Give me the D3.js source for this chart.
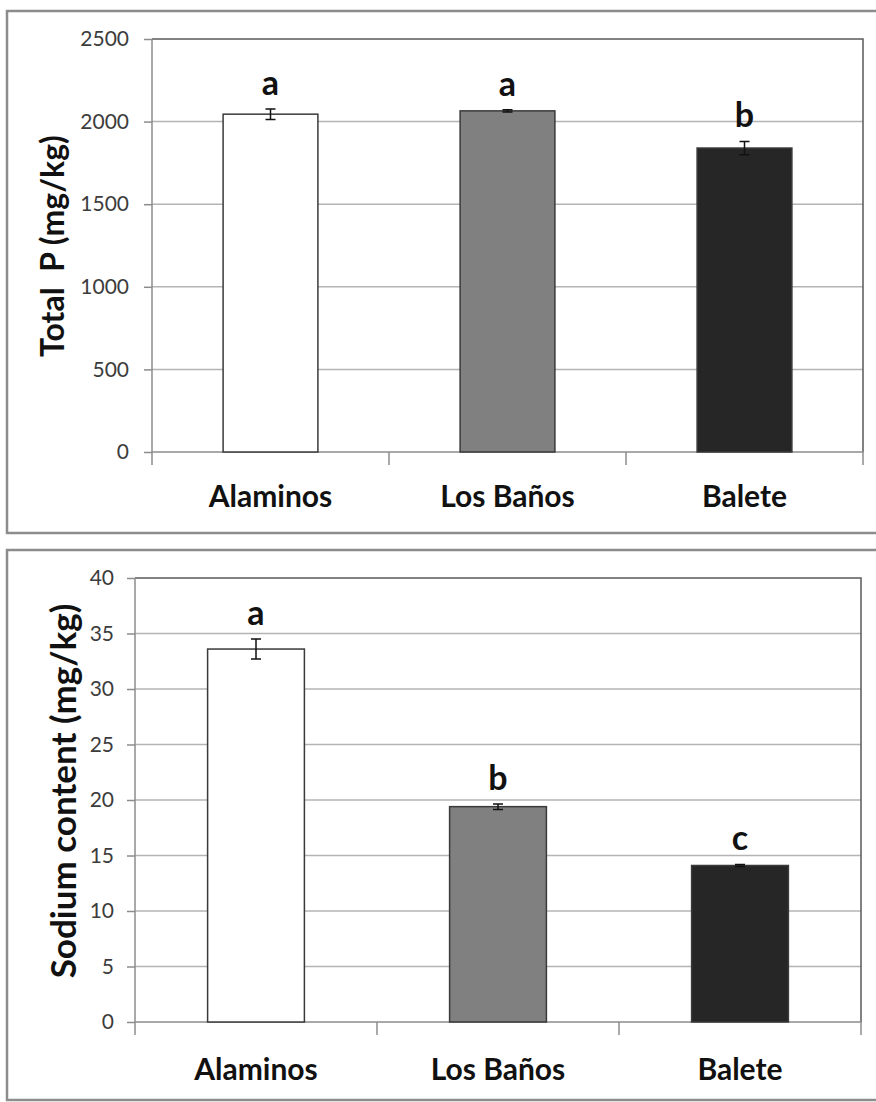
<!DOCTYPE html>
<html>
<head>
<meta charset="utf-8">
<script src="https://cdn.jsdelivr.net/npm/d3@7"></script>
<style>
  body { margin: 0; background: #fff; }
  svg text { font-family: Lato, "Open Sans", sans-serif; }
</style>
</head>
<body>
<div id="chart"></div>
<script>
const categories = ['Alaminos', 'Los Baños', 'Balete'];

const totalP = [2045, 2065, 1840];
const totalPErr = [32, 7, 40];
const totalPLetters = ['a', 'a', 'b'];
const totalPTicks = [0, 500, 1000, 1500, 2000, 2500];

const sodium = [33.6, 19.4, 14.1];
const sodiumErr = [0.9, 0.25, 0.1];
const sodiumLetters = ['a', 'b', 'c'];
const sodiumTicks = [0, 5, 10, 15, 20, 25, 30, 35, 40];

const barFill = ['#ffffff', '#808080', '#262626'];

const W = 876, H = 1102;

const svg = d3.select('#chart')
    .append('svg')
    .attr('width', W)
    .attr('height', H);

function panel(opt) {
    // outer frame
    svg.append('rect')
        .attr('x', opt.box[0])
        .attr('y', opt.box[1])
        .attr('width', opt.box[2])
        .attr('height', opt.box[3])
        .attr('fill', 'none')
        .attr('stroke', '#8c8c8c')
        .attr('stroke-width', 2.5);

    const x = d3.scaleBand()
        .domain(categories)
        .range([opt.left, opt.right])
        .paddingInner(0.6)
        .paddingOuter(0.3);

    const y = d3.scaleLinear()
        .domain(opt.domain)
        .range([opt.bottom, opt.top]);

    const g = svg.append('g');

    // gridlines
    g.selectAll('line.grid')
        .data(opt.ticks.slice(1, -1))
        .enter()
        .append('line')
        .attr('x1', opt.left)
        .attr('x2', opt.right)
        .attr('y1', d => y(d))
        .attr('y2', d => y(d))
        .attr('stroke', '#b4b4b4')
        .attr('stroke-width', 1.5);

    // plot border top + right
    g.append('path')
        .attr('d', `M${opt.left},${opt.top}H${opt.right}V${opt.bottom}`)
        .attr('fill', 'none')
        .attr('stroke', '#5a5a5a')
        .attr('stroke-width', 1.5);

    // y axis
    const yAxis = d3.axisLeft(y)
        .tickValues(opt.ticks)
        .tickSize(8)
        .tickPadding(opt.tickPad)
        .tickFormat(d3.format('d'));
    const ya = g.append('g')
        .attr('transform', `translate(${opt.left},0)`)
        .call(yAxis);
    ya.select('.domain')
        .attr('d', `M0,${opt.top}V${opt.bottom + 13}`)
        .attr('stroke', '#8c8c8c')
        .attr('stroke-width', 1.5);
    ya.selectAll('.tick line').attr('stroke', '#8c8c8c').attr('stroke-width', 1.5);
    ya.selectAll('.tick text')
        .attr('fill', '#3c3c3c')
        .style('font-size', '21px');

    // x axis
    const xa = g.append('g')
        .attr('transform', `translate(0,${opt.bottom})`);
    xa.append('line')
        .attr('x1', opt.left)
        .attr('x2', opt.right)
        .attr('stroke', '#8c8c8c')
        .attr('stroke-width', 1.5);
    const step = x.step();
    xa.selectAll('line.sep')
        .data(categories)
        .enter()
        .append('line')
        .attr('x1', d => x(d) + x.bandwidth() / 2 + step / 2)
        .attr('x2', d => x(d) + x.bandwidth() / 2 + step / 2)
        .attr('y1', 0)
        .attr('y2', 13)
        .attr('stroke', '#8c8c8c')
        .attr('stroke-width', 1.5);
    xa.selectAll('text.cat')
        .data(categories)
        .enter()
        .append('text')
        .attr('class', 'cat')
        .attr('x', d => x(d) + x.bandwidth() / 2)
        .attr('y', opt.catY - opt.bottom)
        .attr('text-anchor', 'middle')
        .attr('font-weight', 'bold')
        .style('font-size', '30px')
        .attr('fill', '#111')
        .text(d => d);

    // bars
    g.selectAll('rect.bar')
        .data(opt.values)
        .enter()
        .append('rect')
        .attr('x', (d, i) => x(categories[i]))
        .attr('y', d => y(d))
        .attr('width', x.bandwidth())
        .attr('height', d => y(0) - y(d))
        .attr('fill', (d, i) => barFill[i])
        .attr('stroke', '#3a3a3a')
        .attr('stroke-width', 1.5);

    // error bars
    const eb = g.selectAll('g.err')
        .data(opt.values)
        .enter()
        .append('g')
        .attr('transform', (d, i) => `translate(${x(categories[i]) + x.bandwidth() / 2},0)`);
    eb.append('path')
        .attr('d', (d, i) => {
            const t = y(d + opt.err[i]), b = y(d - opt.err[i]);
            return `M-5,${t}H5M0,${t}V${b}M-5,${b}H5`;
        })
        .attr('fill', 'none')
        .attr('stroke', '#111')
        .attr('stroke-width', 1.5);

    // significance letters
    g.selectAll('text.letter')
        .data(opt.values)
        .enter()
        .append('text')
        .attr('x', (d, i) => x(categories[i]) + x.bandwidth() / 2)
        .attr('y', (d, i) => y(d + opt.err[i]) - 14)
        .attr('text-anchor', 'middle')
        .attr('font-weight', 'bold')
        .style('font-size', '34px')
        .attr('fill', '#111')
        .text((d, i) => opt.letters[i]);

    // y title
    svg.append('text')
        .attr('transform', `translate(${opt.titleX},${opt.titleY}) rotate(-90)`)
        .attr('text-anchor', 'middle')
        .attr('font-weight', 'bold')
        .style('font-size', opt.titleSize)
        .style('white-space', 'pre')
        .attr('fill', '#111')
        .text(opt.title);
}

panel({
    box: [7, 11, 880, 522],
    left: 152, right: 863, top: 39, bottom: 452,
    domain: [0, 2500],
    ticks: totalPTicks,
    tickPad: 15,
    values: totalP,
    err: totalPErr,
    letters: totalPLetters,
    catY: 507,
    title: 'Total  P (mg/kg)',
    titleX: 64,
    titleY: 246,
    titleSize: '32px'
});

panel({
    box: [7, 550, 880, 550],
    left: 135, right: 861, top: 578, bottom: 1022,
    domain: [0, 40],
    ticks: sodiumTicks,
    tickPad: 13,
    values: sodium,
    err: sodiumErr,
    letters: sodiumLetters,
    catY: 1080,
    title: 'Sodium content (mg/kg)',
    titleX: 76,
    titleY: 791,
    titleSize: '35px'
});
</script>
</body>
</html>
